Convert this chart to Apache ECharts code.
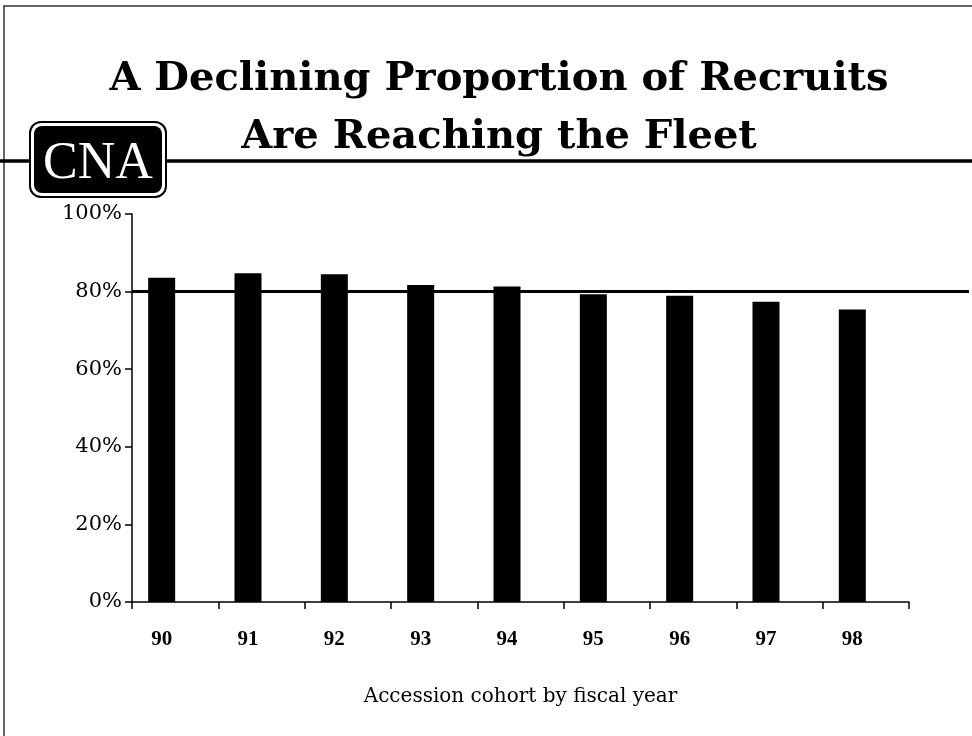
<!DOCTYPE html>
<html><head><meta charset="utf-8">
<script src="https://cdn.jsdelivr.net/npm/echarts@6/dist/echarts.min.js"></script>
<style>html,body{margin:0;padding:0;background:#fff}#c{width:972px;height:736px}</style>
</head><body><div id="c"></div>
<script>
const categories = ['90', '91', '92', '93', '94', '95', '96', '97', '98'];
const reachingFleet = [83.6, 84.7, 84.5, 81.7, 81.3, 79.3, 78.9, 77.4, 75.4];
const emptySlot = [null, null, null, null, null, null, null, null, null];
const targetLine = 80;
const yTicks = [0, 20, 40, 60, 80, 100];
const titleLines = ['A Declining Proportion of Recruits', 'Are Reaching the Fleet'];
const xAxisName = 'Accession cohort by fiscal year';

const chart = echarts.init(document.getElementById('c'), null, {renderer: 'canvas'});
const serif = 'DejaVu Serif';
const option = {
  animation: false,
  backgroundColor: '#fff',
  title: {
    text: titleLines.join('\n'),
    left: 494, top: 46, textAlign: 'center',
    textStyle: {fontFamily: serif, fontWeight: 'bold', fontSize: 40, lineHeight: 58, color: '#000'}
  },
  grid: [
    {left: 132, right: 63, top: 214, bottom: 134},
    {left: 132, right: 3, top: 214, bottom: 134}
  ],
  xAxis: [{
    type: 'category', data: categories, gridIndex: 0,
    boundaryGap: true,
    axisLine: {lineStyle: {color: '#000', width: 1.5}},
    axisTick: {show: true, length: 7, lineStyle: {color: '#000', width: 1.5}},
    axisLabel: {color: '#000', fontFamily: 'Liberation Serif', fontWeight: 'bold', fontSize: 21, margin: 27, padding: [0, 27, 0, 0]},
    name: xAxisName, nameLocation: 'middle', nameGap: 85,
    nameTextStyle: {color: '#000', fontFamily: serif, fontSize: 20}
  }, {
    type: 'value', gridIndex: 1, min: 0, max: 1, show: false
  }],
  yAxis: [{
    type: 'value', gridIndex: 0, min: yTicks[0], max: yTicks[yTicks.length - 1], interval: 20,
    axisLine: {show: true, lineStyle: {color: '#000', width: 1.5}},
    axisTick: {show: true, length: 7, lineStyle: {color: '#000', width: 1.5}},
    splitLine: {show: false},
    axisLabel: {color: '#000', fontFamily: serif, fontSize: 21, margin: 10, formatter: '{value}%'}
  }, {
    type: 'value', gridIndex: 1, min: yTicks[0], max: yTicks[yTicks.length - 1], show: false
  }],
  series: [{
    type: 'bar', data: reachingFleet, xAxisIndex: 0, yAxisIndex: 0,
    barWidth: 27, barGap: '0%', itemStyle: {color: '#000'}
  }, {
    type: 'bar', data: emptySlot, xAxisIndex: 0, yAxisIndex: 0,
    barWidth: 27, barGap: '0%', itemStyle: {color: '#000'}
  }, {
    type: 'line', xAxisIndex: 1, yAxisIndex: 1, data: [], silent: true,
    markLine: {
      silent: true, symbol: 'none', label: {show: false},
      lineStyle: {color: '#000', width: 3, type: 'solid'},
      data: [{yAxis: targetLine}]
    }
  }],
  graphic: [
    {type: 'line', shape: {x1: 3, y1: 6, x2: 972, y2: 6}, style: {stroke: '#333', lineWidth: 1.5}},
    {type: 'line', shape: {x1: 4, y1: 6, x2: 4, y2: 736}, style: {stroke: '#333', lineWidth: 1.5}},
    {type: 'line', shape: {x1: 0, y1: 161, x2: 972, y2: 161}, style: {stroke: '#000', lineWidth: 3.5}},
    {type: 'rect', shape: {x: 30, y: 122, width: 136, height: 75, r: 11}, style: {fill: '#fff', stroke: '#000', lineWidth: 2}},
    {type: 'rect', shape: {x: 34, y: 126, width: 128, height: 67, r: 8}, style: {fill: '#000'}},
    {type: 'text', x: 98, y: 164, style: {text: 'CNA', fill: '#fff', font: '52px "Liberation Serif"', textAlign: 'center', textVerticalAlign: 'middle'}}
  ]
};
chart.setOption(option);
</script></body></html>
